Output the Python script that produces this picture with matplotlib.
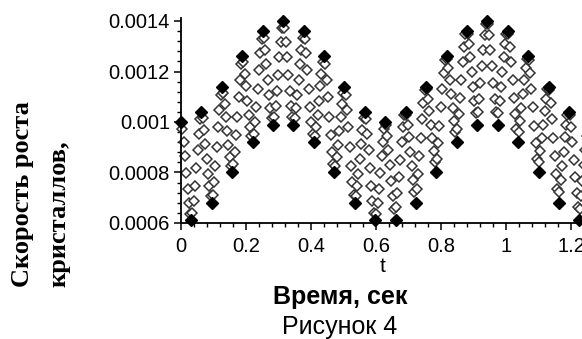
import numpy as np
import matplotlib
matplotlib.use("Agg")
import matplotlib.pyplot as plt
from matplotlib.ticker import FixedLocator, MultipleLocator

# turning points of the fast oscillation (t, v in units of 1e-4)
t_turn = [0.000, 0.031, 0.063, 0.094, 0.126, 0.157, 0.188, 0.220, 0.251, 0.283,
          0.314, 0.346, 0.377, 0.408, 0.440, 0.471, 0.503, 0.534, 0.565, 0.597,
          0.628, 0.660, 0.691, 0.723, 0.754, 0.785, 0.817, 0.848, 0.880, 0.911,
          0.942, 0.974, 1.005, 1.037, 1.068, 1.100, 1.131, 1.162, 1.194, 1.225, 1.257]
v_turn = [10.0, 6.1, 10.4, 6.8, 11.4, 8.0, 12.6, 9.2, 13.6, 9.9,
          14.0, 9.9, 13.6, 9.2, 12.6, 8.0, 11.4, 6.8, 10.4, 6.1,
          10.0, 6.1, 10.4, 6.8, 11.4, 8.0, 12.6, 9.2, 13.6, 9.9,
          14.0, 9.9, 13.6, 9.2, 12.6, 8.0, 11.4, 6.8, 10.4, 6.1, 10.0]

# sampled points between the turning points, one row per half period
t_pts = [
    [0.004, 0.008, 0.012, 0.016, 0.020, 0.024, 0.028],
    [0.035, 0.039, 0.043, 0.047, 0.051, 0.055, 0.059],
    [0.067, 0.071, 0.075, 0.079, 0.083, 0.087, 0.091],
    [0.098, 0.102, 0.106, 0.110, 0.114, 0.118, 0.122],
    [0.130, 0.134, 0.138, 0.142, 0.146, 0.150, 0.154],
    [0.161, 0.165, 0.169, 0.173, 0.177, 0.181, 0.185],
    [0.192, 0.196, 0.200, 0.204, 0.208, 0.212, 0.216],
    [0.224, 0.228, 0.232, 0.236, 0.240, 0.244, 0.248],
    [0.255, 0.259, 0.263, 0.267, 0.271, 0.275, 0.279],
    [0.287, 0.291, 0.295, 0.299, 0.303, 0.307, 0.311],
    [0.318, 0.322, 0.326, 0.330, 0.334, 0.338, 0.342],
    [0.350, 0.354, 0.358, 0.362, 0.366, 0.370, 0.374],
    [0.381, 0.385, 0.389, 0.393, 0.397, 0.401, 0.405],
    [0.412, 0.416, 0.420, 0.424, 0.428, 0.432, 0.436],
    [0.444, 0.448, 0.452, 0.456, 0.460, 0.464, 0.468],
    [0.475, 0.479, 0.483, 0.487, 0.491, 0.495, 0.499],
    [0.507, 0.511, 0.515, 0.519, 0.523, 0.527, 0.531],
    [0.538, 0.542, 0.546, 0.550, 0.554, 0.558, 0.562],
    [0.569, 0.573, 0.577, 0.581, 0.585, 0.589, 0.593],
    [0.601, 0.605, 0.609, 0.613, 0.617, 0.621, 0.625],
    [0.630, 0.634, 0.638, 0.643, 0.647, 0.651, 0.655],
    [0.662, 0.666, 0.670, 0.675, 0.679, 0.683, 0.687],
    [0.693, 0.697, 0.701, 0.706, 0.710, 0.714, 0.718],
    [0.725, 0.729, 0.733, 0.738, 0.742, 0.746, 0.750],
    [0.756, 0.760, 0.764, 0.769, 0.773, 0.777, 0.781],
    [0.787, 0.791, 0.795, 0.800, 0.804, 0.808, 0.812],
    [0.819, 0.823, 0.827, 0.832, 0.836, 0.840, 0.844],
    [0.850, 0.854, 0.858, 0.863, 0.867, 0.871, 0.875],
    [0.882, 0.886, 0.890, 0.895, 0.899, 0.903, 0.907],
    [0.913, 0.917, 0.921, 0.926, 0.930, 0.934, 0.938],
    [0.944, 0.948, 0.952, 0.957, 0.961, 0.965, 0.969],
    [0.976, 0.980, 0.984, 0.989, 0.993, 0.997, 1.001],
    [1.007, 1.011, 1.015, 1.020, 1.024, 1.028, 1.032],
    [1.039, 1.043, 1.047, 1.052, 1.056, 1.060, 1.064],
    [1.070, 1.074, 1.078, 1.083, 1.087, 1.091, 1.095],
    [1.102, 1.106, 1.110, 1.115, 1.119, 1.123, 1.127],
    [1.133, 1.137, 1.141, 1.146, 1.150, 1.154, 1.158],
    [1.164, 1.168, 1.172, 1.177, 1.181, 1.185, 1.189],
    [1.196, 1.200, 1.204, 1.209, 1.213, 1.217, 1.221],
    [1.227, 1.231, 1.235, 1.240, 1.244, 1.248, 1.252],
]
v_pts = [
    [9.73, 9.22, 8.64, 7.97, 7.35, 6.80, 6.37],
    [6.40, 6.87, 7.48, 8.16, 8.90, 9.54, 10.10],
    [10.15, 9.68, 9.14, 8.53, 7.95, 7.45, 7.05],
    [7.12, 7.63, 8.27, 9.01, 9.79, 10.48, 11.08],
    [11.16, 10.72, 10.21, 9.63, 9.09, 8.61, 8.24],
    [8.32, 8.83, 9.47, 10.21, 10.99, 11.68, 12.28],
    [12.36, 11.92, 11.41, 10.83, 10.29, 9.81, 9.44],
    [9.51, 9.99, 10.61, 11.31, 12.06, 12.72, 13.29],
    [13.34, 12.86, 12.31, 11.68, 11.08, 10.57, 10.16],
    [10.19, 10.64, 11.21, 11.87, 12.57, 13.18, 13.71],
    [13.71, 13.18, 12.57, 11.87, 11.21, 10.64, 10.19],
    [10.16, 10.57, 11.08, 11.68, 12.31, 12.86, 13.34],
    [13.29, 12.72, 12.06, 11.31, 10.61, 9.99, 9.51],
    [9.44, 9.81, 10.29, 10.83, 11.41, 11.92, 12.36],
    [12.28, 11.68, 10.99, 10.21, 9.47, 8.83, 8.32],
    [8.24, 8.61, 9.09, 9.63, 10.21, 10.72, 11.16],
    [11.08, 10.48, 9.79, 9.01, 8.27, 7.63, 7.12],
    [7.05, 7.45, 7.95, 8.53, 9.14, 9.68, 10.15],
    [10.10, 9.54, 8.90, 8.16, 7.48, 6.87, 6.40],
    [6.37, 6.80, 7.35, 7.97, 8.64, 9.22, 9.73],
    [9.88, 9.45, 8.91, 8.28, 7.66, 7.08, 6.57],
    [6.62, 7.18, 7.82, 8.51, 9.20, 9.80, 10.27],
    [10.29, 9.90, 9.39, 8.82, 8.24, 7.70, 7.23],
    [7.35, 7.95, 8.64, 9.38, 10.11, 10.76, 11.26],
    [11.30, 10.92, 10.45, 9.90, 9.36, 8.85, 8.41],
    [8.55, 9.15, 9.84, 10.58, 11.31, 11.96, 12.46],
    [12.50, 12.12, 11.65, 11.10, 10.56, 10.05, 9.61],
    [9.73, 10.30, 10.96, 11.66, 12.37, 12.98, 13.47],
    [13.49, 13.08, 12.56, 11.97, 11.38, 10.83, 10.34],
    [10.39, 10.93, 11.54, 12.20, 12.85, 13.43, 13.88],
    [13.88, 13.43, 12.85, 12.20, 11.54, 10.93, 10.39],
    [10.34, 10.83, 11.38, 11.97, 12.56, 13.08, 13.49],
    [13.47, 12.98, 12.37, 11.66, 10.96, 10.30, 9.73],
    [9.61, 10.05, 10.56, 11.10, 11.65, 12.12, 12.50],
    [12.46, 11.96, 11.31, 10.58, 9.84, 9.15, 8.55],
    [8.41, 8.85, 9.36, 9.90, 10.45, 10.92, 11.30],
    [11.26, 10.76, 10.11, 9.38, 8.64, 7.95, 7.35],
    [7.23, 7.70, 8.24, 8.82, 9.39, 9.90, 10.29],
    [10.27, 9.80, 9.20, 8.51, 7.82, 7.18, 6.62],
    [6.57, 7.08, 7.66, 8.28, 8.91, 9.45, 9.88],
]

x_ticks = [0, 0.2, 0.4, 0.6, 0.8, 1.0, 1.2]
x_labels = ["0", "0.2", "0.4", "0.6", "0.8", "1", "1.2"]
y_ticks = [0.0006, 0.0008, 0.001, 0.0012, 0.0014]
y_labels = ["0.0006", "0.0008", "0.001", "0.0012", "0.0014"]

tick_font = "Liberation Sans"

fig = plt.figure(figsize=(5.82, 3.39), dpi=100)
W, H = 582, 339
ax = fig.add_axes([181 / W, 1 - 223 / H, 401 / W, 205 / H])

tp = np.array(t_pts).ravel()
vp = np.array(v_pts).ravel() * 1e-4
ax.plot(tp, vp, ls="none", marker="D", ms=4.8, mfc="white", mec="#333333",
        mew=1.1, clip_on=False)
ax.plot(t_turn, np.array(v_turn) * 1e-4, ls="none", marker="D", ms=6.5,
        mfc="black", mec="black", clip_on=False)

ax.set_xlim(0, 401 / 325)
ax.set_ylim(0.0006, 0.0006 + 205 / 202 * 0.0008)

for s in ["top", "right"]:
    ax.spines[s].set_visible(False)
for s in ["left", "bottom"]:
    ax.spines[s].set_linewidth(1.3)

ax.xaxis.set_major_locator(FixedLocator(x_ticks))
ax.set_xticklabels(x_labels)
ax.xaxis.set_minor_locator(MultipleLocator(0.04))
ax.yaxis.set_major_locator(FixedLocator(y_ticks))
ax.set_yticklabels(y_labels)
ax.yaxis.set_minor_locator(MultipleLocator(0.00004))
ax.tick_params(which="major", length=5, width=1.1, labelsize=14.5)
ax.tick_params(axis="x", which="major", pad=5)
ax.tick_params(axis="y", which="major", pad=3)
ax.tick_params(which="minor", length=3, width=1.0)
for lab in ax.get_xticklabels() + ax.get_yticklabels():
    lab.set_family(tick_font)

fig.text(383 / W, 1 - 266 / H, "t", ha="center", va="center", fontsize=15,
         family=tick_font)
fig.text(340 / W, 1 - 297 / H, "Время, сек", ha="center", va="center",
         fontsize=18, fontweight="bold", family="Liberation Sans")
fig.text(340 / W, 1 - 327 / H, "Рисунок 4", ha="center", va="center",
         fontsize=18, family="Liberation Sans")

fig.text(23 / W, 1 - 287 / H, "Скорость роста", rotation=90, ha="center",
         va="bottom", fontsize=19, fontweight="bold", family="Liberation Serif")
fig.text(59 / W, 1 - 287 / H, "кристаллов,", rotation=90, ha="center",
         va="bottom", fontsize=19, fontweight="bold", family="Liberation Serif")

fig.savefig("out.png", dpi=100)
